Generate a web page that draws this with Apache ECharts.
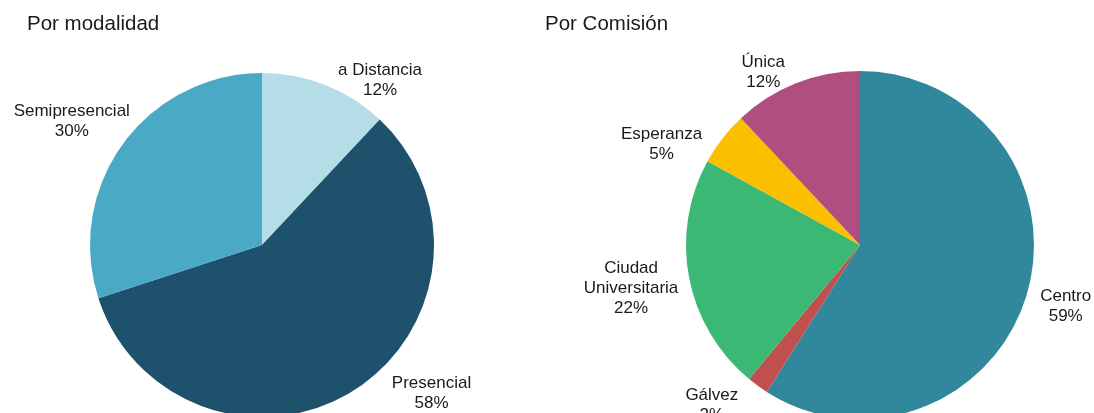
<!DOCTYPE html>
<html>
<head>
<meta charset="utf-8">
<script src="https://cdn.jsdelivr.net/npm/echarts@6/dist/echarts.min.js"></script>
<style>
  html, body { margin: 0; padding: 0; background: #fff; }
  #chart { width: 1094px; height: 413px; }
</style>
</head>
<body>
<div id="chart"></div>
<script>
// datos
const modalidadNames = ['a Distancia', 'Presencial', 'Semipresencial'];
const modalidadValues = [12, 58, 30];
const modalidadColors = ['#b5dde7', '#1e526c', '#4aa9c4'];

const comisionNames = ['Centro', 'Gálvez', 'Ciudad\nUniversitaria', 'Esperanza', 'Única'];
const comisionValues = [59, 2, 22, 5, 12];
const comisionColors = ['#31879c', '#c0504d', '#3bb873', '#fbbf00', '#b04e7f'];

// ajuste fino de etiquetas (estilo Excel), [dx, dy] por porción
const nudgeModalidad = [[46, 5], [67, 0], [-38, -17]];
const nudgeComision = [[24, 10], [-35, 12], [-48, 9], [-52, 12], [-24, -2]];

function toData(names, values, colors) {
    return names.map((n, i) => ({ name: n, value: values[i], itemStyle: { color: colors[i] } }));
}

function labelFmt(p) {
    return p.name.split('\n').map(s => '{t|' + s + '}').join('\n') + '\n{t|' + p.value + '%}';
}

const labelStyle = {
    show: true,
    position: 'outside',
    width: 150,
    formatter: labelFmt,
    rich: {
        t: { fontFamily: 'Liberation Sans, Arial, sans-serif', fontSize: 17, lineHeight: 20, color: '#1a1a1a', align: 'center' }
    }
};

function nudger(table) {
    return function (p) {
        const d = table[p.dataIndex];
        return { align: 'center', dx: d[0], dy: d[1] };
    };
}

const chart = echarts.init(document.getElementById('chart'));

const titleFont = { fontFamily: 'Liberation Sans, Arial, sans-serif', fontSize: 20.5, fontWeight: 'normal', color: '#1a1a1a' };

const option = {
    animation: false,
    backgroundColor: '#ffffff',
    title: [
        { text: 'Por modalidad', left: 22, top: 9, textStyle: titleFont },
        { text: 'Por Comisión', left: 540, top: 9, textStyle: titleFont }
    ],
    series: [
        {
            type: 'pie',
            center: [262, 245],
            radius: 172,
            startAngle: 90,
            clockwise: true,
            label: labelStyle,
            labelLine: { show: false, length: 10, length2: 0 },
            labelLayout: nudger(nudgeModalidad),
            emphasis: { disabled: true },
            data: toData(modalidadNames, modalidadValues, modalidadColors)
        },
        {
            type: 'pie',
            center: [860, 245],
            radius: 174,
            startAngle: 90,
            clockwise: true,
            label: labelStyle,
            labelLine: { show: false, length: 10, length2: 0 },
            labelLayout: nudger(nudgeComision),
            emphasis: { disabled: true },
            data: toData(comisionNames, comisionValues, comisionColors)
        }
    ]
};

chart.setOption(option);
</script>
</body>
</html>
